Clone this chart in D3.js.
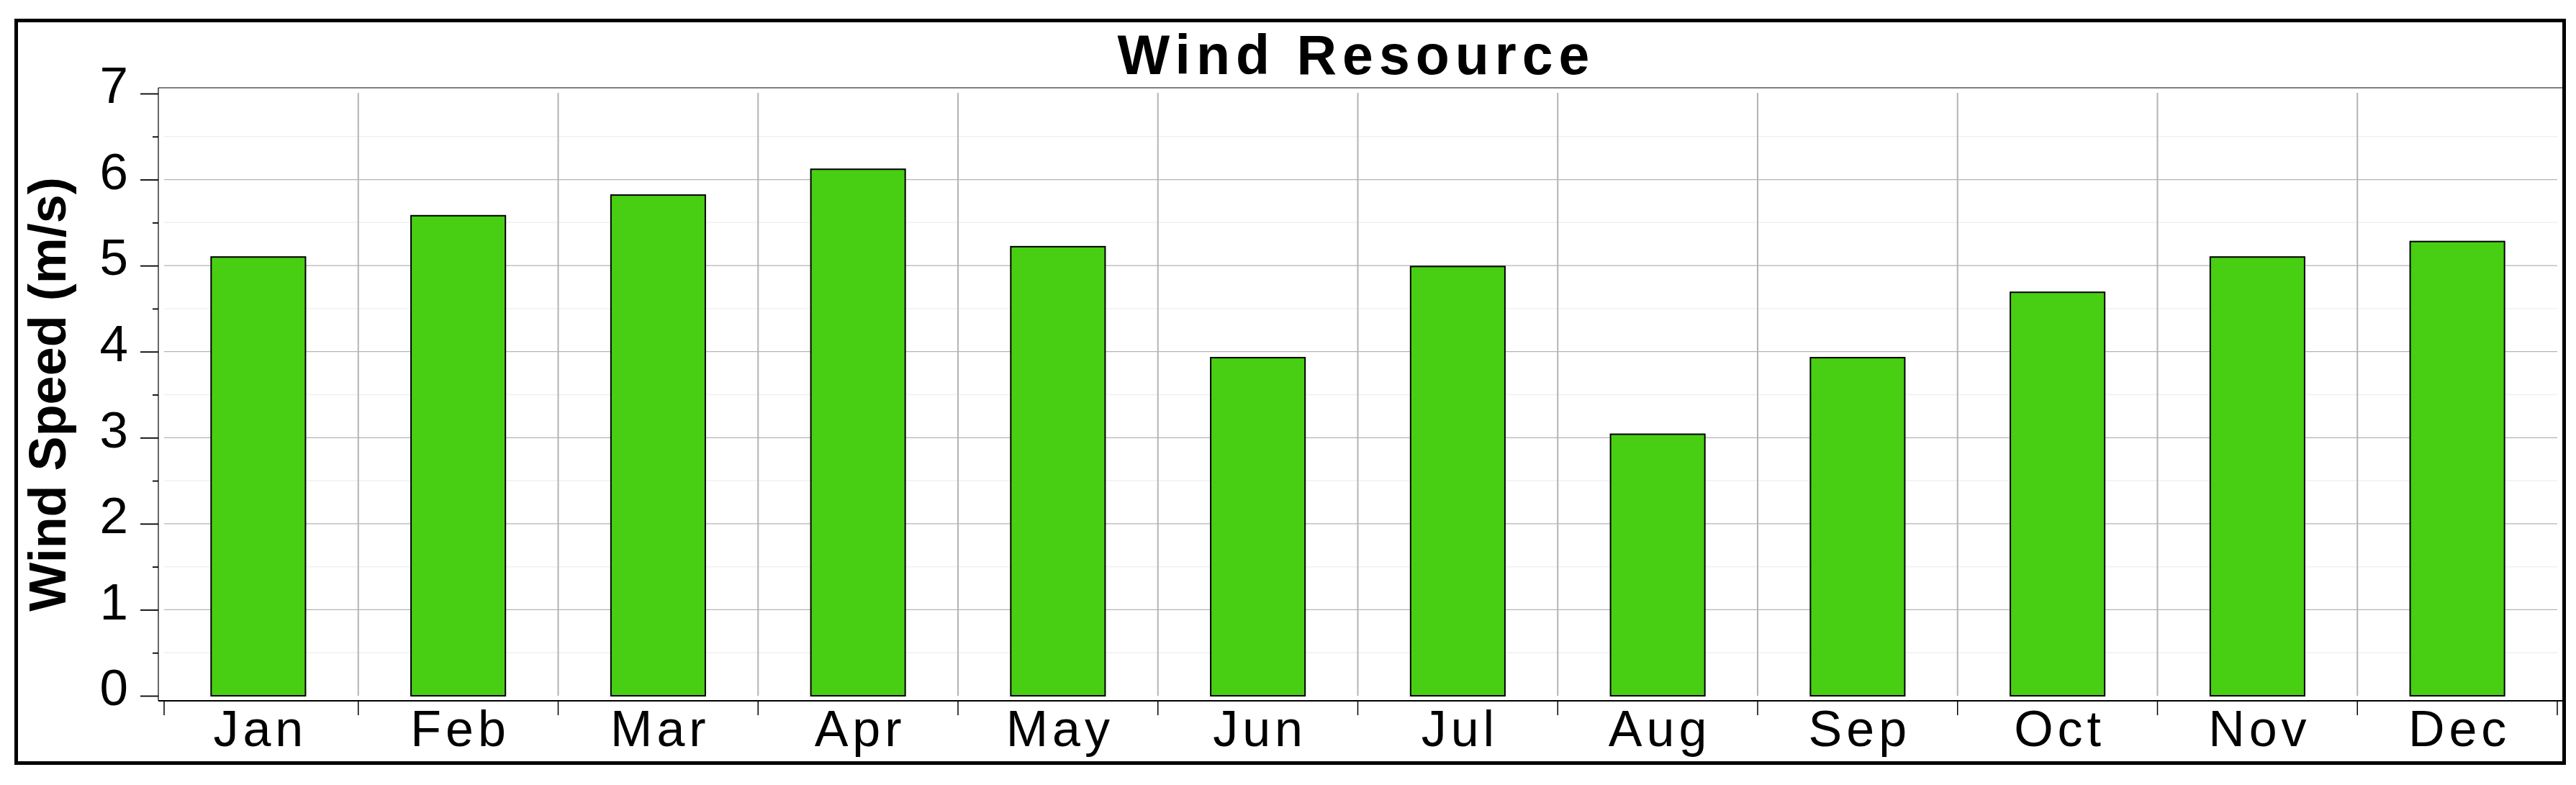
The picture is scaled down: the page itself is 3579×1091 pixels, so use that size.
<!DOCTYPE html>
<html>
<head>
<meta charset="utf-8">
<script src="https://cdn.jsdelivr.net/npm/d3@7"></script>
<style>
    html, body { margin: 0; padding: 0; background: #fff; }
    #chart { width: 3579px; height: 1091px; }
    text { font-family: 'Liberation Sans', Arial, sans-serif; fill: #000; }
</style>
</head>
<body>
<div id="chart"></div>
<script>
//Datos
const months = ['Jan','Feb','Mar','Apr','May','Jun','Jul','Aug','Sep','Oct','Nov','Dec'];
const windSpeed = [5.10, 5.58, 5.82, 6.12, 5.22, 3.93, 4.99, 3.04, 3.93, 4.69, 5.10, 5.28];
const yTicks = [0, 1, 2, 3, 4, 5, 6, 7];
const yMinorTicks = [0.5, 1.5, 2.5, 3.5, 4.5, 5.5, 6.5];
const chartTitle = 'Wind Resource';
const yTitle = 'Wind Speed (m/s)';

//Colores
const COLOR_BAR = '#48CE12',
COLOR_GRID = '#b4b4b4',
COLOR_GRID_MINOR = '#f0f0f0';

let width = 3579, height = 1091;
let plot = {left: 220, top: 122, right: 3561, bottom: 974};
let gridLeft = 228, gridRight = 3553;

let svg = d3.select('#chart')
    .append('svg')
      .attr('width', width)
      .attr('height', height);

//Marco exterior
svg.append('rect')
    .attr('x', 22.5)
    .attr('y', 28.5)
    .attr('width', 3540)
    .attr('height', 1032)
    .attr('fill', 'none')
    .attr('stroke', '#000')
    .attr('stroke-width', 5);

let x = d3.scaleBand()
    .domain(months)
    .range([plot.left, gridRight])
    .padding(0);

let y = d3.scaleLinear()
    .domain([0, 7])
    .range([967, 130]);

//Rejilla
let grid = svg.append('g').attr('class', 'grid');

grid.selectAll('.minor')
    .data(yMinorTicks)
    .enter()
    .append('line')
    .attr('x1', gridLeft)
    .attr('x2', gridRight)
    .attr('y1', function(d) { return y(d); })
    .attr('y2', function(d) { return y(d); })
    .attr('stroke', COLOR_GRID_MINOR)
    .attr('stroke-width', 1.5);

grid.selectAll('.major')
    .data(yTicks.filter(function(d) { return d > 0 && d < 7; }))
    .enter()
    .append('line')
    .attr('x1', gridLeft)
    .attr('x2', gridRight)
    .attr('y1', function(d) { return y(d); })
    .attr('y2', function(d) { return y(d); })
    .attr('stroke', COLOR_GRID)
    .attr('stroke-width', 1.3);

grid.selectAll('.vline')
    .data(months.slice(1))
    .enter()
    .append('line')
    .attr('x1', function(d) { return x(d); })
    .attr('x2', function(d) { return x(d); })
    .attr('y1', y(7) - 1)
    .attr('y2', y(0))
    .attr('stroke', COLOR_GRID)
    .attr('stroke-width', 2);

//Caja del área de dibujo
svg.append('line')
    .attr('x1', plot.left).attr('x2', plot.right)
    .attr('y1', plot.top).attr('y2', plot.top)
    .attr('stroke', '#000').attr('stroke-width', 1);

svg.append('line')
    .attr('x1', plot.left).attr('x2', plot.left)
    .attr('y1', plot.top).attr('y2', plot.bottom)
    .attr('stroke', '#000').attr('stroke-width', 1.2);

svg.append('line')
    .attr('x1', plot.left).attr('x2', plot.right)
    .attr('y1', plot.bottom).attr('y2', plot.bottom)
    .attr('stroke', '#000').attr('stroke-width', 1.8);

//Barras
let barWidth = x.bandwidth() * 0.472;

svg.append('g')
    .attr('class', 'chart-g')
    .selectAll('rect')
    .data(windSpeed)
    .enter()
    .append('rect')
    .attr('x', function(d, i) { return x(months[i]) + (x.bandwidth() - barWidth) / 2; })
    .attr('y', function(d) { return y(d); })
    .attr('width', barWidth)
    .attr('height', function(d) { return y(0) - y(d); })
    .attr('fill', COLOR_BAR)
    .attr('stroke', '#000')
    .attr('stroke-width', 2);

//Eje Y
let yAxis = svg.append('g')
    .attr('transform', 'translate(' + plot.left + ',0)')
    .call(d3.axisLeft(y).tickValues(yTicks).tickSize(25).tickPadding(17).tickFormat(d3.format('d')));

yAxis.select('.domain').remove();
yAxis.selectAll('.tick line').attr('stroke', '#000').attr('stroke-width', 1.8);
yAxis.selectAll('.tick text')
    .attr('dy', '0.18em')
    .style('font-size', '71px');

let yMinor = svg.append('g')
    .attr('transform', 'translate(' + plot.left + ',0)')
    .call(d3.axisLeft(y).tickValues(yMinorTicks).tickSize(8).tickFormat(''));

yMinor.select('.domain').remove();
yMinor.selectAll('.tick line').attr('stroke', '#000').attr('stroke-width', 1.8);

//Eje X
let xAxis = svg.append('g')
    .attr('transform', 'translate(0,' + plot.bottom + ')')
    .call(d3.axisBottom(x).tickSize(0).tickPadding(13));

xAxis.select('.domain').remove();
xAxis.selectAll('.tick text')
    .attr('dx', 3)
    .style('font-size', '70px')
    .style('letter-spacing', '6px');

//Marcas entre meses
svg.append('g')
    .selectAll('line')
    .data(months.concat(['end']))
    .enter()
    .append('line')
    .attr('x1', function(d, i) { return i == 0 ? gridLeft : (i == months.length ? gridRight : x(d)); })
    .attr('x2', function(d, i) { return i == 0 ? gridLeft : (i == months.length ? gridRight : x(d)); })
    .attr('y1', plot.bottom)
    .attr('y2', plot.bottom + 20)
    .attr('stroke', '#000')
    .attr('stroke-width', 1.5);

//Títulos
svg.append('text')
    .attr('x', (plot.left + plot.right) / 2 - 6)
    .attr('y', 102.7)
    .attr('text-anchor', 'middle')
    .style('font-size', '77px')
    .style('font-weight', 'bold')
    .style('letter-spacing', '8px')
    .text(chartTitle);

svg.append('text')
    .attr('transform', 'translate(91,' + ((plot.top + plot.bottom) / 2) + ') rotate(-90)')
    .attr('text-anchor', 'middle')
    .style('font-size', '72px')
    .style('font-weight', 'bold')
    .text(yTitle);
</script>
</body>
</html>
